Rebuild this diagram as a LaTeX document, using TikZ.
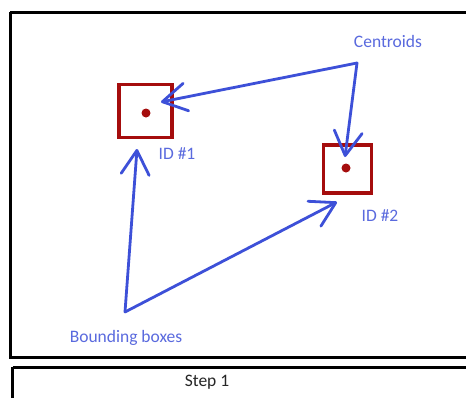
\documentclass[tikz,border=0pt]{standalone}
\usepackage{fontspec}
\setmainfont{Carlito}
\usetikzlibrary{arrows.meta}
\definecolor{penblue}{HTML}{3D50D8}
\definecolor{labelblue}{HTML}{5A6ADE}
\definecolor{boxred}{HTML}{A50D0D}
\tikzset{
  frame/.style={draw=black, line width=3pt},
  bbox/.style={draw=boxred, line width=3.8pt, minimum size=52pt, inner sep=0pt},
  centroid/.style={circle, fill=boxred, minimum size=9pt, inner sep=0pt},
  pen/.style={draw=penblue, line width=2.8pt, line cap=round, line join=round},
  penarrow/.style={pen, -{Straight Barb[length=24pt, width=28pt, line cap=round, line join=round]}},
  note/.style={text=labelblue, font=\fontsize{17.5}{20}\selectfont},
}
\begin{document}
\begin{tikzpicture}[x=1pt, y=-1pt]
  \useasboundingbox (0,0) rectangle (466,397);
  \fill[white] (0,0) rectangle (466,397);

  % outer frames
  \draw[frame] (10,12) -- (475,12) (10,12) -- (10,357) -- (475,357);
  \draw[frame] (12.5,367) -- (475,367) (12.5,367) -- (12.5,405);
  \node[font=\fontsize{17.5}{20}\selectfont, text=black!85] (step) at (207,382) {Step 1};

  % objects with their bounding boxes and centroids
  \node[bbox, minimum size=53pt] (box1) at (145.5,111) {};
  \node[centroid] (c1) at (146,113) {};
  \node[bbox, minimum size=48pt] (box2) at (347.5,169) {};
  \node[centroid] (c2) at (346,168) {};

  \node[note] (id1) at (177,154) {ID \#1};
  \node[note] (id2) at (380,216) {ID \#2};
  \node[note] (cent) at (388,41) {Centroids};
  \node[note] (bbl) at (126,338) {Bounding boxes};

  % pointer arrows
  \coordinate (capex) at (357,63);
  \coordinate (bapex) at (125,312);
  \coordinate (t1) at (161,102);
  \coordinate (t2) at (345,157);
  \coordinate (t3) at (137,149);
  \coordinate (t4) at (337,202);

  \draw[penarrow] (capex) -- (t1);
  \draw[penarrow] (capex) -- (t2);
  \draw[penarrow] (bapex) -- (t3);
  \draw[penarrow] (bapex) -- (t4);
\end{tikzpicture}
\end{document}
